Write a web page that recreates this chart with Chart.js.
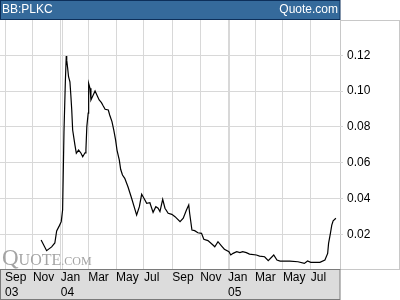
<!DOCTYPE html>
<html>
<head>
<meta charset="utf-8">
<script src="https://cdn.jsdelivr.net/npm/chart.js@4"></script>
<style>
  html, body { margin: 0; padding: 0; background: #fff; }
  #wrap { width: 400px; height: 300px; position: relative; }
</style>
</head>
<body>
<div id="wrap"><canvas id="chart"></canvas></div>
<script>
// BB:PLKC weekly closes
const dates = [
  '2003-11-19','2003-12-01','2003-12-12','2003-12-19','2003-12-23','2003-12-29',
  '2004-01-02','2004-01-05','2004-01-08','2004-01-11','2004-01-13',
  '2004-01-14','2004-01-16','2004-01-18','2004-01-21','2004-01-23','2004-01-25',
  '2004-01-27','2004-02-01','2004-02-04','2004-02-09','2004-02-14','2004-02-18',
  '2004-02-23','2004-02-25','2004-02-27','2004-03-01','2004-03-02','2004-03-05',
  '2004-03-07','2004-03-12','2004-03-16','2004-03-21','2004-03-25','2004-03-30',
  '2004-04-03','2004-04-07','2004-04-14','2004-04-17','2004-04-22','2004-04-26',
  '2004-04-30','2004-05-03','2004-05-08','2004-05-11','2004-05-15','2004-05-20',
  '2004-05-27','2004-06-04','2004-06-15','2004-06-21','2004-06-26','2004-07-01',
  '2004-07-07','2004-07-14','2004-07-21','2004-07-27','2004-08-01','2004-08-05',
  '2004-08-11','2004-08-16','2004-08-23','2004-08-31','2004-09-07','2004-09-18',
  '2004-09-25','2004-10-02','2004-10-07','2004-10-09','2004-10-14','2004-10-20',
  '2004-10-27','2004-11-04','2004-11-09','2004-11-18','2004-11-29','2004-12-03',
  '2004-12-10','2004-12-18','2004-12-24','2005-01-03','2005-01-07','2005-01-12',
  '2005-01-20','2005-01-27','2005-02-02','2005-02-10','2005-02-17','2005-03-04',
  '2005-03-11','2005-03-22','2005-03-30','2005-04-11','2005-04-18','2005-04-25',
  '2005-05-16','2005-06-03','2005-06-17','2005-06-24','2005-07-01','2005-07-21',
  '2005-08-01','2005-08-07','2005-08-09','2005-08-13','2005-08-16','2005-08-19',
  '2005-08-25'
];
const prices = [
  0.0168, 0.0108, 0.0129, 0.0151, 0.0218, 0.0248,
  0.0270, 0.0335, 0.0773, 0.1052, 0.1196,
  0.1173, 0.1129, 0.1080, 0.1052, 0.0978, 0.0894,
  0.0782, 0.0698, 0.0652, 0.0670, 0.0654, 0.0633,
  0.0655, 0.0670, 0.0801, 0.0877, 0.1043, 0.1015,
  0.0950, 0.0978, 0.1000, 0.0972, 0.0950, 0.0935,
  0.0916, 0.0898, 0.0894, 0.0866, 0.0829, 0.0782,
  0.0726, 0.0670, 0.0615, 0.0563, 0.0531, 0.0512,
  0.0465, 0.0401, 0.0307, 0.0354, 0.0423, 0.0401,
  0.0373, 0.0376, 0.0322, 0.0354, 0.0345, 0.0326,
  0.0395, 0.0345, 0.0317, 0.0311, 0.0298, 0.0270,
  0.0289, 0.0335, 0.0363, 0.0317, 0.0223, 0.0220,
  0.0208, 0.0205, 0.0172, 0.0164, 0.0140, 0.0130,
  0.0158, 0.0134, 0.0116, 0.0102, 0.0084, 0.0093,
  0.0102, 0.0097, 0.0102, 0.0097, 0.0089, 0.0084,
  0.0078, 0.0074, 0.0052, 0.0084, 0.0056, 0.0050,
  0.0050, 0.0046, 0.0037, 0.0050, 0.0043, 0.0043,
  0.0056, 0.0093, 0.0149, 0.0205, 0.0251, 0.0275,
  0.0289
];

// x axis: month gridlines with labels (extra unlabeled line after each new year)
const tickDates  = ['2003-09-01','2003-11-01','2004-01-01','2004-01-05','2004-03-01','2004-05-01',
                    '2004-07-01','2004-09-01','2004-11-01','2005-01-01','2005-01-05','2005-03-01',
                    '2005-05-01','2005-07-01'];
const tickMonths = ['Sep','Nov','Jan','','Mar','May','Jul','Sep','Nov','Jan','','Mar','May','Jul'];
const tickYears  = ['03','','04','','','','','','','05','','','',''];
const xRange = ['2003-08-21', '2005-09-03'];

// y axis (right side)
const yTicks = [0.02, 0.04, 0.06, 0.08, 0.10, 0.12];
const yMax = 0.1397;

const SANS = "'Liberation Sans', Arial, sans-serif";
const NARROW = "'Liberation Sans Narrow', 'Arial Narrow', 'Liberation Sans', Arial, sans-serif";
const SERIF = "'Liberation Serif', 'Times New Roman', serif";

function dayOf(s) {
  const p = s.split('-').map(Number);
  return (Date.UTC(p[0], p[1] - 1, p[2]) - Date.UTC(2003, 8, 1)) / 86400000;
}

const points = dates.map((d, i) => ({ x: dayOf(d), y: prices[i] }));

// header bar, bottom label box, right axis panel, watermark
const frame = {
  id: 'frame',
  beforeDraw(chart) {
    const ctx = chart.ctx;
    const a = chart.chartArea;
    ctx.save();
    // right axis panel
    ctx.strokeStyle = '#c8c8c8';
    ctx.lineWidth = 1;
    ctx.strokeRect(a.right + 0.5, a.top + 0.5, chart.width - a.right - 1, a.bottom - a.top - 1);
    // grey date box
    ctx.fillStyle = '#dcdcdc';
    ctx.fillRect(0, a.bottom, a.right, chart.height - a.bottom);
    ctx.strokeStyle = '#7a7a7a';
    ctx.strokeRect(0.5, a.bottom - 0.5, a.right - 0.5, chart.height - a.bottom);
    // header
    ctx.fillStyle = '#356a9b';
    ctx.fillRect(0, 0, a.right, 20);
    ctx.strokeStyle = '#0d2f5a';
    ctx.strokeRect(0.5, 0.5, a.right - 0.5, 19);
    ctx.fillStyle = '#ffffff';
    ctx.font = '12px ' + SANS;
    ctx.textBaseline = 'middle';
    ctx.textAlign = 'left';
    ctx.fillText('BB:PLKC', 2, 10);
    ctx.textAlign = 'right';
    ctx.fillText('Quote.com', a.right - 2, 10);
    ctx.restore();
  },
  beforeDatasetsDraw(chart) {
    const ctx = chart.ctx;
    const a = chart.chartArea;
    ctx.save();
    ctx.fillStyle = '#a4a4a4';
    ctx.textBaseline = 'alphabetic';
    ctx.textAlign = 'left';
    let x = 2;
    const base = 265;
    ctx.font = '23px ' + SERIF;
    ctx.fillText('Q', x, base);
    x += ctx.measureText('Q').width;
    ctx.font = '16px ' + SERIF;
    ctx.fillText('UOTE', x, base);
    x += ctx.measureText('UOTE').width;
    ctx.font = '12px ' + SERIF;
    ctx.fillText('.COM', x, base);
    // redraw top edge of the date box over the gridlines
    ctx.strokeStyle = '#7a7a7a';
    ctx.lineWidth = 1;
    ctx.beginPath();
    ctx.moveTo(0, a.bottom - 0.5);
    ctx.lineTo(a.right, a.bottom - 0.5);
    ctx.stroke();
    ctx.restore();
  }
};

new Chart(document.getElementById('chart'), {
  type: 'line',
  data: {
    datasets: [{
      data: points,
      borderColor: '#000000',
      borderWidth: 1.2,
      pointRadius: 0,
      tension: 0,
      fill: false
    }]
  },
  options: {
    responsive: true,
    maintainAspectRatio: false,
    animation: false,
    layout: { padding: { top: 20, left: 0, right: 0, bottom: 0 } },
    plugins: { legend: { display: false }, tooltip: { enabled: false } },
    scales: {
      x: {
        type: 'linear',
        position: 'bottom',
        min: dayOf(xRange[0]),
        max: dayOf(xRange[1]),
        afterBuildTicks: s => { s.ticks = tickDates.map(d => ({ value: dayOf(d) })); },
        afterFit: s => { s.height = 30; },
        grid: { color: '#d8d8d8', lineWidth: 1, drawTicks: false },
        border: { display: false },
        ticks: {
          align: 'start',
          padding: 0,
          autoSkip: false,
          maxRotation: 0,
          color: '#000',
          font: { family: NARROW, size: 12, lineHeight: 1.25 },
          callback: (v, i) => tickYears[i] ? [tickMonths[i], tickYears[i]] : tickMonths[i]
        }
      },
      y: {
        position: 'right',
        min: 0,
        max: yMax,
        afterBuildTicks: s => { s.ticks = yTicks.map(v => ({ value: v })); },
        afterFit: s => { s.width = 60; },
        grid: { color: '#d8d8d8', lineWidth: 1, drawTicks: true, tickLength: 3 },
        border: { display: false },
        ticks: {
          padding: 4,
          color: '#000',
          font: { family: SANS, size: 12 },
          callback: v => v.toFixed(2)
        }
      }
    }
  },
  plugins: [frame]
});
</script>
</body>
</html>
